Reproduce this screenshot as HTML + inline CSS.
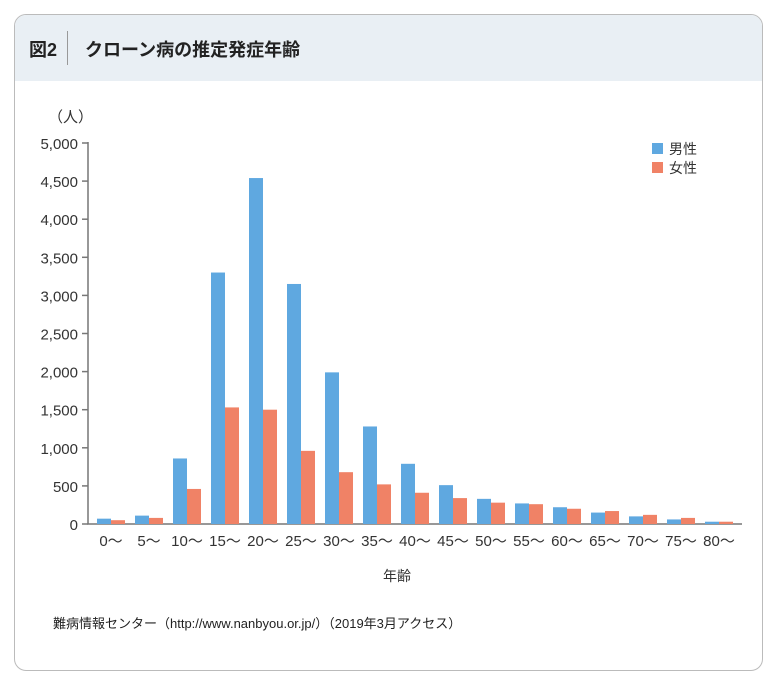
<!DOCTYPE html>
<html><head><meta charset="utf-8"><style>
body{margin:0;width:779px;height:679px;background:#fff;font-family:"Liberation Sans","Noto Sans CJK JP",sans-serif;}
.card{position:absolute;left:14px;top:14px;width:747px;height:655px;border:1px solid #bbb;border-radius:12px;overflow:hidden;}
.hd{height:66px;background:#e9eff4;position:relative;}
.hd .a{position:absolute;left:14px;top:21px;font-size:18px;font-weight:bold;color:#222;}
.hd .sep{position:absolute;left:52px;top:16px;width:1px;height:34px;background:#999;}
.hd .b{position:absolute;left:70px;top:21px;font-size:18px;font-weight:bold;color:#222;}
</style></head><body>
<div class="card"><div class="hd"><span class="a">図2</span><div class="sep"></div><span class="b">クローン病の推定発症年齢</span></div></div>
<svg width="779" height="679" style="position:absolute;left:0;top:0" font-family="Liberation Sans, Noto Sans CJK JP, sans-serif">
<text x="48" y="122" font-size="15" fill="#333">（人）</text>
<g id="ax" stroke="#777" stroke-width="1.5" fill="none"><path d="M88 142V524H742"/></g>
<g id="g"></g>
<rect x="652" y="143" width="11" height="11" fill="#5fa8e0"/><text x="669" y="154" font-size="14" fill="#333">男性</text>
<rect x="652" y="162" width="11" height="11" fill="#f08266"/><text x="669" y="173" font-size="14" fill="#333">女性</text>
<text x="397" y="581" font-size="14" fill="#333" text-anchor="middle">年齢</text>
<text x="53" y="628" font-size="13" fill="#222">難病情報センター（http://www.nanbyou.or.jp/）（2019年3月アクセス）</text>
</svg>
<script>
var g=document.getElementById('g'),s='';
var m=[70,110,860,3300,4540,3150,1990,1280,790,510,330,270,220,150,100,60,30];
var f=[50,80,460,1530,1500,960,680,520,410,340,280,260,200,170,120,80,30];
var k=381/5000;
for(var i=0;i<=10;i++){var y=524-i*38.1;s+='<line x1="82" x2="88" y1="'+y+'" y2="'+y+'" stroke="#777" stroke-width="1.5"/><text x="78" y="'+(y+6)+'" font-size="15" fill="#333" text-anchor="end">'+(i*500).toLocaleString('en-US')+'</text>';}
for(var i=0;i<17;i++){var x=97+i*38;
s+='<rect x="'+x+'" y="'+(524-m[i]*k)+'" width="14" height="'+(m[i]*k)+'" fill="#5fa8e0"/>';
s+='<rect x="'+(x+14)+'" y="'+(524-f[i]*k)+'" width="14" height="'+(f[i]*k)+'" fill="#f08266"/>';
s+='<text x="'+(x+14)+'" y="546" font-size="15" fill="#333" text-anchor="middle">'+(i*5)+'〜</text>';}
g.innerHTML=s;
</script>
</body></html>
